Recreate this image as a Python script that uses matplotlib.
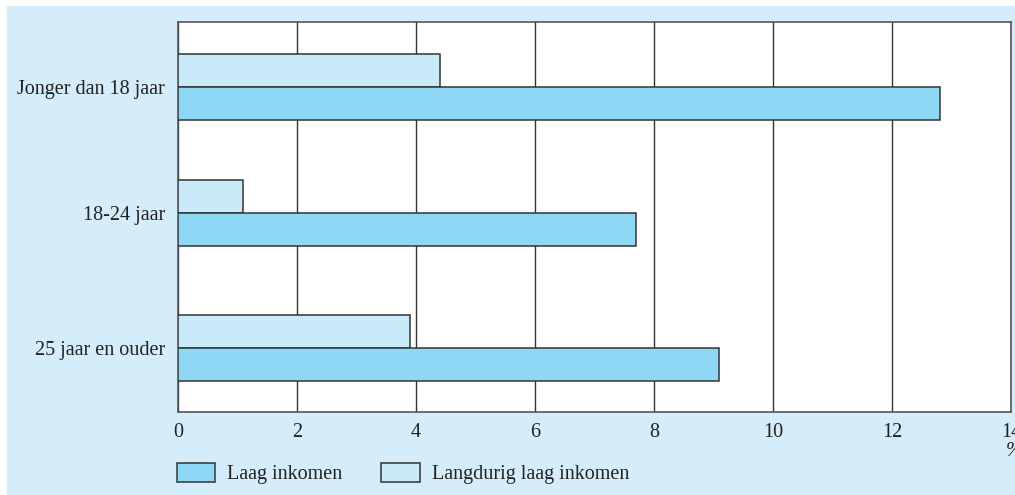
import matplotlib.pyplot as plt
from matplotlib.patches import Rectangle, Patch

plt.rcParams['font.family'] = ['Liberation Serif', 'DejaVu Serif']

categories = ['Jonger dan 18 jaar', '18-24 jaar', '25 jaar en ouder']
laag_inkomen = [12.8, 7.7, 9.1]
langdurig_laag = [4.4, 1.1, 3.9]
x_ticks = [0, 2, 4, 6, 8, 10, 12, 14]

c_bg = '#d5edfa'
c_laag = '#8ed7f5'
c_lang = '#c8eaf9'
c_edge = '#333333'
fs = 14.5

# category centres (uneven spacing like the original), bar height
ypos = [0, 126.3, 261.6]
h = 33

fig = plt.figure(figsize=(10.15, 4.95), dpi=100)
fig.patches.append(Rectangle((7 / 1015, 0), 1, 489 / 495, transform=fig.transFigure,
                             facecolor=c_bg, edgecolor='none', zorder=-10))

ax = fig.add_axes([178 / 1015, 1 - 412 / 495, 833 / 1015, 390.3 / 495])
ax.set_facecolor('white')

for i, cat in enumerate(categories):
    ax.barh(ypos[i] - h / 2, langdurig_laag[i], height=h, color=c_lang,
            edgecolor=c_edge, linewidth=1.1, zorder=3)
    ax.barh(ypos[i] + h / 2, laag_inkomen[i], height=h, color=c_laag,
            edgecolor=c_edge, linewidth=1.1, zorder=3)

ax.set_xlim(0, 14)
ax.set_ylim(261.6 + 63.7, -65)
ax.set_xticks(x_ticks)
ax.set_yticks(ypos)
ax.set_yticklabels(categories)
ax.tick_params(axis='both', length=0, labelsize=fs, colors='#222222')
ax.tick_params(axis='x', pad=8)
ax.tick_params(axis='y', pad=9.5)
for lbl in ax.get_xticklabels():
    lbl.set_clip_on(False)

ax.grid(True, axis='x', color='#333333', linewidth=1.0, zorder=0)
ax.set_axisbelow(True)
for s in ax.spines.values():
    s.set_color('#555555')
    s.set_linewidth(1.2)

ax.text(0.9942, -0.1, '%', transform=ax.transAxes, fontsize=fs, color='#222222',
        ha='left', va='center', style='italic')

handles = [Patch(facecolor=c_laag, edgecolor=c_edge, linewidth=1.1, label='Laag inkomen'),
           Patch(facecolor=c_lang, edgecolor=c_edge, linewidth=1.1, label='Langdurig laag inkomen')]
fig.legend(handles=handles, loc='center left', bbox_to_anchor=(177 / 1015, 1 - 473.5 / 495),
           ncol=2, frameon=False, fontsize=fs, handlelength=1.89, handleheight=1.14,
           handletextpad=0.6, columnspacing=1.94, borderpad=0, borderaxespad=0,
           labelcolor='#222222')

fig.savefig('out.png', dpi=100, facecolor='white')
